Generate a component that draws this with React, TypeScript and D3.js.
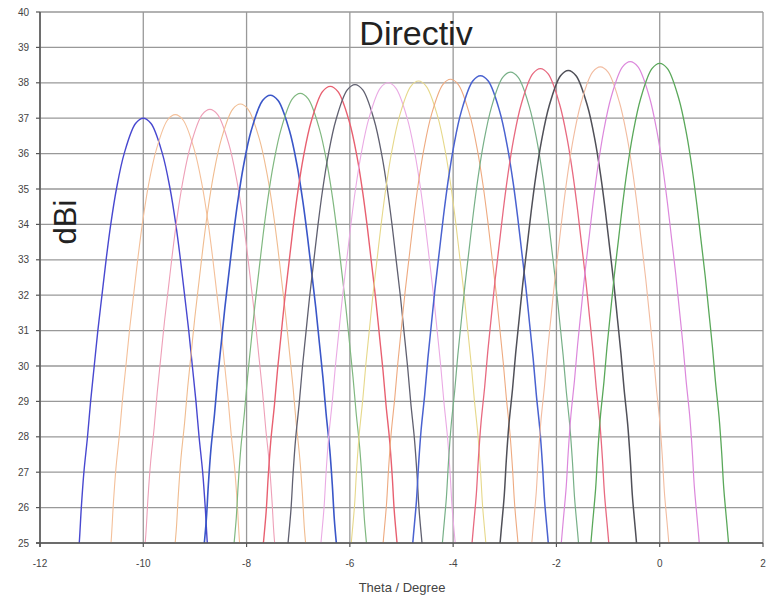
import React from "react";
import * as d3 from "d3";

// Beam centres (degrees) and peak directivity (dBi)
const beamCenters = [-10.0, -9.38, -8.71, -8.12, -7.54, -6.96, -6.38, -5.9, -5.26, -4.67, -4.05, -3.47, -2.89, -2.31, -1.77, -1.15, -0.57, 0.0];
const beamPeaks = [37.0, 37.1, 37.25, 37.4, 37.65, 37.7, 37.9, 37.95, 38.0, 38.05, 38.1, 38.2, 38.3, 38.4, 38.35, 38.45, 38.6, 38.55];
// Beam shape read from the first (blue) beam: offset from centre (deg) vs drop from peak (dB)
const profileOffsets = [0, 0.15, 0.37, 0.52, 0.63, 0.72, 0.8, 0.88, 0.95, 1.02, 1.08, 1.15, 1.2, 1.24, 1.3, 1.36];
const profileDrops = [0, 0.15, 1, 2, 3, 4, 5, 6, 7, 8, 9, 10, 11, 12, 13, 14];

const xTicks = [-12, -10, -8, -6, -4, -2, 0, 2];
const yTicks = [25, 26, 27, 28, 29, 30, 31, 32, 33, 34, 35, 36, 37, 38, 39, 40];

const beamColors = [
  "#4848d0", "#f4c09a", "#eea0b8", "#f0bc90", "#3a56c8", "#80b880",
  "#e86070", "#606070", "#eaaae4", "#e6d88a", "#eeaa80", "#4a62d0",
  "#78b088", "#e86a80", "#505058", "#f2bca0", "#dc88dc", "#5aa85a",
];
const beamWidths = [1.4, 1.1, 1.1, 1.1, 1.6, 1.2, 1.4, 1.3, 1.1, 1.1, 1.1, 1.5, 1.2, 1.3, 1.5, 1.1, 1.2, 1.3];

const W = 769, H = 596;
const L = 40, R = 763, T = 12, B = 543;

export default function App() {
  const x = d3.scaleLinear().domain([-12, 2]).range([L, R]);
  const y = d3.scaleLinear().domain([25, 40]).range([B, T]);
  const line = d3
    .line<[number, number]>()
    .x((d) => x(d[0]))
    .y((d) => y(d[1]))
    .curve(d3.curveCatmullRom.alpha(0.5));

  const beams = beamCenters.map((c, i) => {
    const pk = beamPeaks[i];
    const left: [number, number][] = profileOffsets
      .map((o, k) => [c - o, pk - profileDrops[k]] as [number, number])
      .reverse();
    const right: [number, number][] = profileOffsets
      .slice(1)
      .map((o, k) => [c + o, pk - profileDrops[k + 1]] as [number, number]);
    return left.concat(right);
  });

  return (
    <svg width={W} height={H} style={{ position: "absolute", left: 0, top: 0, background: "#fff" }}
      fontFamily="'Liberation Sans', Arial, sans-serif">
      <defs>
        <clipPath id="plot">
          <rect x={L} y={T} width={R - L} height={B - T} />
        </clipPath>
      </defs>
      <rect x={0} y={0} width={W} height={H} fill="#fff" />
      {/* grid */}
      {yTicks.map((t) => (
        <line key={"gy" + t} x1={L} x2={R} y1={y(t)} y2={y(t)} stroke="#999" strokeWidth={1.3} />
      ))}
      {xTicks.map((t) => (
        <line key={"gx" + t} x1={x(t)} x2={x(t)} y1={T} y2={B} stroke="#999" strokeWidth={1.3} />
      ))}
      {/* beams */}
      <g clipPath="url(#plot)">
        {beams.map((pts, i) => (
          <path key={i} d={line(pts) || ""} fill="none" stroke={beamColors[i]} strokeWidth={beamWidths[i]} />
        ))}
      </g>
      {/* axes */}
      <line x1={L} x2={L} y1={T} y2={B + 4} stroke="#555" strokeWidth={1.5} />
      <line x1={L - 4} x2={R} y1={B} y2={B} stroke="#555" strokeWidth={1.5} />
      {yTicks.map((t) => (
        <g key={"ty" + t}>
          <line x1={L - 4} x2={L} y1={y(t)} y2={y(t)} stroke="#555" strokeWidth={1.2} />
          <text x={29} y={y(t)} dy="0.35em" textAnchor="end" fontSize={10} fill="#444">{t}</text>
        </g>
      ))}
      {xTicks.map((t) => (
        <g key={"tx" + t}>
          <line x1={x(t)} x2={x(t)} y1={B} y2={B + 4} stroke="#555" strokeWidth={1.2} />
          <text x={x(t)} y={567} textAnchor="middle" fontSize={10} fill="#444">{t}</text>
        </g>
      ))}
      <text x={416} y={45} textAnchor="middle" fontSize={34} fill="#222">Directiv</text>
      <text transform="translate(76,222) rotate(-90)" textAnchor="middle" fontSize={31} fill="#222">dBi</text>
      <text x={402} y={592} textAnchor="middle" fontSize={13} fill="#444">Theta / Degree</text>
    </svg>
  );
}
